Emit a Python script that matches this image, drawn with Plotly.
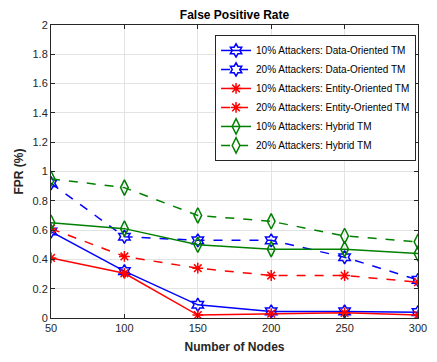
import plotly.graph_objects as go

nodes = [50, 100, 150, 200, 250, 300]
data10 = [0.59, 0.32, 0.09, 0.045, 0.045, 0.04]
data20 = [0.92, 0.555, 0.53, 0.53, 0.415, 0.26]
entity10 = [0.41, 0.305, 0.02, 0.03, 0.035, 0.02]
entity20 = [0.61, 0.42, 0.34, 0.29, 0.29, 0.245]
hybrid10 = [0.65, 0.61, 0.50, 0.47, 0.47, 0.44]
hybrid20 = [0.95, 0.89, 0.70, 0.66, 0.56, 0.52]

names = [
    "10% Attackers: Data-Oriented TM",
    "20% Attackers: Data-Oriented TM",
    "10% Attackers: Entity-Oriented TM",
    "20% Attackers: Entity-Oriented TM",
    "10% Attackers: Hybrid TM",
    "20% Attackers: Hybrid TM",
]
series = [data10, data20, entity10, entity20, hybrid10, hybrid20]
colors = ["#0000ff", "#0000ff", "#ff0000", "#ff0000", "#008000", "#008000"]
dashes = ["solid", "dash", "solid", "dash", "solid", "dash"]
symbols = ["hexagram-open", "hexagram-open", "asterisk-open", "asterisk-open",
           "diamond-tall-open", "diamond-tall-open"]
sizes = [10, 10, 9, 9, 11, 11]

W, H = 437, 362

fig = go.Figure()
for nm, ys, c, d, s, sz in zip(names, series, colors, dashes, symbols, sizes):
    fig.add_trace(go.Scatter(
        x=nodes, y=ys, name=nm, mode="lines+markers",
        line=dict(color=c, width=1.5, dash=d),
        marker=dict(symbol=s, size=sz, color=c, line=dict(color=c, width=1.5)),
    ))

axis_common = dict(
    showline=True, linecolor="#262626", linewidth=1, mirror="ticks",
    ticks="inside", ticklen=4, tickcolor="#262626",
    showgrid=True, gridcolor="#e3e3e3", gridwidth=1, zeroline=False,
    tickfont=dict(family="Liberation Sans, Arial, sans-serif", size=11, color="#262626"),
)

fig.update_layout(
    width=W, height=H,
    margin=dict(l=51, r=10, t=25, b=40),
    paper_bgcolor="white", plot_bgcolor="white",
    font=dict(family="Liberation Sans, Arial, sans-serif", color="#262626"),
    title=dict(text="<b>False Positive Rate</b>", x=0.5, xref="paper", xanchor="center",
               y=1 - 15 / H, yanchor="middle",
               font=dict(size=12, color="#000000")),
    xaxis=dict(range=[50, 300], tickvals=[50, 100, 150, 200, 250, 300],
               title=dict(text="<b>Number of Nodes</b>", standoff=9,
                          font=dict(size=12, color="#262626")),
               **axis_common),
    yaxis=dict(range=[0, 2], dtick=0.2,
               title=dict(text="<b>FPR (%)</b>", standoff=6,
                          font=dict(size=12, color="#262626")),
               **axis_common),
    legend=dict(x=0.447, y=0.966, xanchor="left", yanchor="top",
                bgcolor="white", bordercolor="#262626", borderwidth=1,
                font=dict(size=10, color="#000000"), tracegroupgap=0,
                itemwidth=30),
    showlegend=True,
)

fig.write_html("out.html", config={"displayModeBar": False},
               post_script="document.body.style.margin='0px';")
